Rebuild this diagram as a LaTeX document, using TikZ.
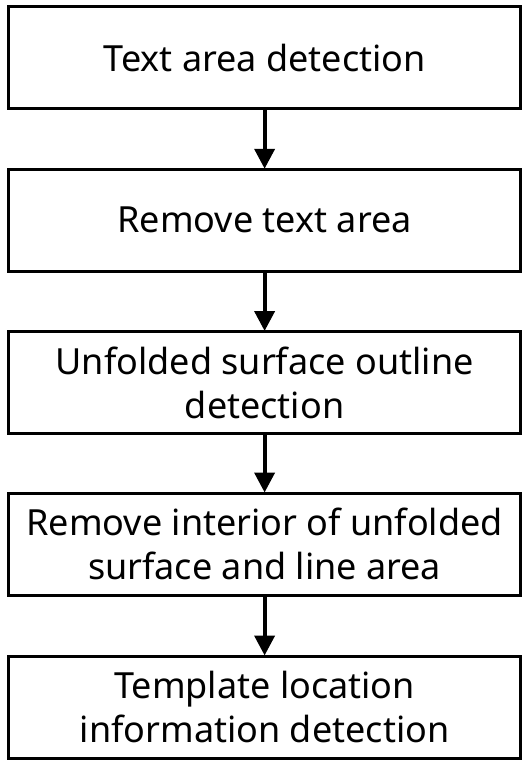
\documentclass[tikz,border=0pt]{standalone}
\usepackage{fontspec}
\setmainfont{Noto Sans}
\usetikzlibrary{arrows.meta}
\begin{document}
\begin{tikzpicture}[x=1pt,y=-1pt,
  stepbox/.style={draw=black, line width=3pt, minimum width=511.8pt, minimum height=102pt,
    inner sep=0pt, align=center, font=\fontsize{36}{44}\selectfont},
  flow/.style={line width=4pt, -{Triangle[width=20pt,length=20pt]}, shorten >=-1pt}]
\useasboundingbox (0,0) rectangle (531,773);
\node[stepbox] (a) at (264.6,57.75) {Text area detection};
\node[stepbox] (b) at (264.6,220.25) {Remove text area};
\node[stepbox] (c) at (264.6,382.5) {Unfolded surface outline\\detection};
\node[stepbox] (d) at (264.6,544) {Remove interior of unfolded\\surface and line area};
\node[stepbox] (e) at (264.6,707) {Template location\\information detection};
\draw[flow] (a) -- (b);
\draw[flow] (b) -- (c);
\draw[flow] (c) -- (d);
\draw[flow] (d) -- (e);
\end{tikzpicture}
\end{document}
